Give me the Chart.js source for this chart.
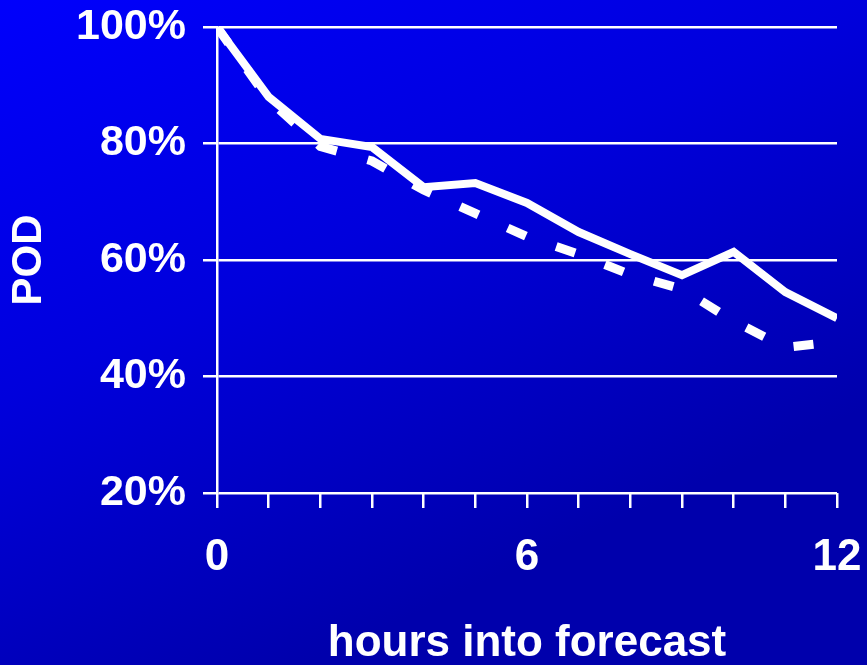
<!DOCTYPE html>
<html>
<head>
<meta charset="utf-8">
<script src="https://cdn.jsdelivr.net/npm/chart.js@4.4.1/dist/chart.umd.min.js"></script>
<style>
  html, body { margin: 0; padding: 0; background: #0000d0; }
  #wrap { width: 867px; height: 665px; }
</style>
</head>
<body>
<div id="wrap"><canvas id="c" width="867" height="665"></canvas></div>
<script>
// Forecast lead time in hours
const hours = [0, 1, 2, 3, 4, 5, 6, 7, 8, 9, 10, 11, 12];
// Probability of detection (%), solid series
const podSolid = [100, 88, 80.8, 79.4, 72.5, 73.2, 69.8, 64.8, 61, 57.4, 61.4, 54.5, 50];
// Probability of detection (%), dashed series
const podDashed = [100, 87.5, 79.5, 77, 72, 68, 64, 61, 57.5, 55, 49.5, 45, 46];
// Axis labels
const xTickLabels = { 0: '0', 6: '6', 12: '12' };
const yTickValues = [20, 40, 60, 80, 100];

const toPoints = (ys) => hours.map((h, i) => ({ x: h, y: ys[i] }));

const bgPlugin = {
  id: 'bg',
  beforeDraw(chart) {
    const { ctx, width, height } = chart;
    const g = ctx.createLinearGradient(0, 0, width * 0.35, height);
    g.addColorStop(0, '#0000fc');
    g.addColorStop(0.5, '#0000dc');
    g.addColorStop(1, '#0000ac');
    ctx.save();
    ctx.fillStyle = g;
    ctx.fillRect(0, 0, width, height);
    ctx.restore();
  }
};

const font = 'Liberation Sans, Arial, sans-serif';

new Chart(document.getElementById('c'), {
  type: 'line',
  data: {
    datasets: [
      {
        data: toPoints(podDashed),
        borderColor: '#ffffff',
        borderWidth: 9,
        borderDash: [20, 32],
        borderCapStyle: 'butt',
        pointRadius: 0,
        tension: 0,
        fill: false
      },
      {
        data: toPoints(podSolid),
        borderColor: '#ffffff',
        borderWidth: 8,
        borderJoinStyle: 'miter',
        pointRadius: 0,
        tension: 0,
        fill: false
      }
    ]
  },
  options: {
    responsive: false,
    animation: false,
    layout: { padding: { top: 27, right: 30, left: 0, bottom: 0 } },
    plugins: { legend: { display: false }, tooltip: { enabled: false } },
    scales: {
      x: {
        type: 'linear',
        min: 0,
        max: 12,
        afterFit(scale) {
          scale.height = 172;
          scale.paddingLeft = 0;
          scale.paddingRight = 0;
        },
        afterBuildTicks(scale) { scale.ticks = hours.map(h => ({ value: h })); },
        grid: {
          drawOnChartArea: false,
          drawTicks: true,
          tickLength: 15,
          color: '#ffffff',
          lineWidth: 2.5
        },
        border: { display: false },
        ticks: {
          autoSkip: false,
          maxRotation: 0,
          padding: 23,
          color: '#ffffff',
          font: { family: font, size: 44, weight: 'bold' },
          callback: (v) => (xTickLabels[v] !== undefined ? xTickLabels[v] : '')
        },
        title: {
          display: true,
          text: 'hours into forecast',
          color: '#ffffff',
          font: { family: font, size: 44, weight: 'bold' },
          padding: { top: 0, bottom: -5 }
        }
      },
      y: {
        min: 20,
        max: 100,
        afterFit(scale) {
          scale.width = 217;
          scale.paddingTop = 0;
          scale.paddingBottom = 0;
        },
        afterBuildTicks(scale) { scale.ticks = yTickValues.map(v => ({ value: v })); },
        grid: {
          drawOnChartArea: true,
          drawTicks: true,
          tickLength: 14,
          color: '#ffffff',
          lineWidth: 2.5
        },
        border: { display: true, color: '#ffffff', width: 2.5 },
        ticks: {
          padding: 17,
          color: '#ffffff',
          font: { family: font, size: 43, weight: 'bold' },
          callback: (v) => v + '%'
        },
        title: {
          display: true,
          text: 'POD',
          color: '#ffffff',
          font: { family: font, size: 42, weight: 'bold' },
          padding: { top: 4, bottom: 0 }
        }
      }
    }
  },
  plugins: [bgPlugin]
});
</script>
</body>
</html>
